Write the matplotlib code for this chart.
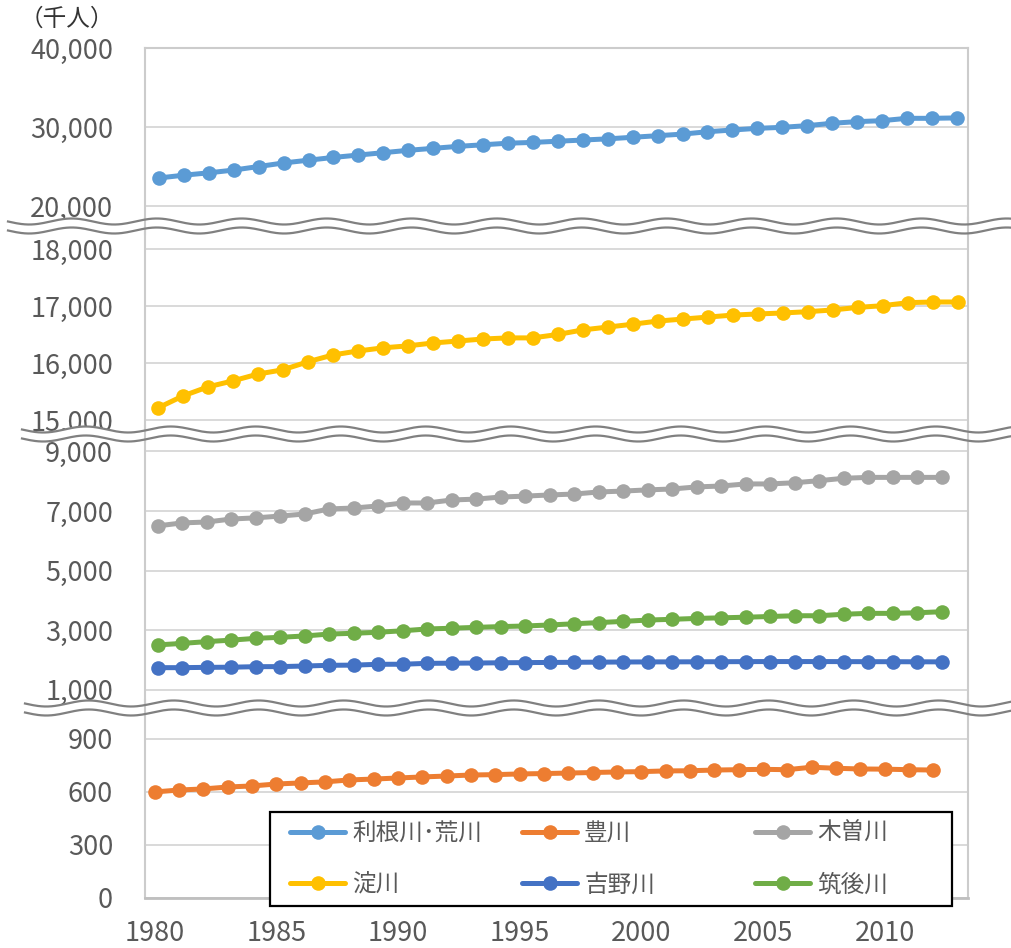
import numpy as np
import matplotlib
matplotlib.use('Agg')
import matplotlib.pyplot as plt
from matplotlib.patches import Polygon, Rectangle
from matplotlib.lines import Line2D
from matplotlib.ticker import FuncFormatter

plt.rcParams['font.family'] = ['Noto Sans CJK JP', 'DejaVu Sans']

# data (thousand people), 1980-2012
years = list(range(1980, 2013))
tone_arakawa = [23550, 23900, 24200, 24550, 25000, 25450, 25800, 26150, 26450, 26750,
                27050, 27300, 27550, 27750, 27950, 28050, 28200, 28350, 28500, 28700,
                28900, 29100, 29400, 29620, 29830, 29960, 30170, 30470, 30680, 30800,
                31100, 31100, 31150]
yodogawa = [15210, 15420, 15580, 15685, 15805, 15880, 16020, 16140, 16210, 16265,
            16300, 16350, 16385, 16420, 16440, 16440, 16500, 16580, 16630, 16680,
            16735, 16770, 16805, 16840, 16860, 16877, 16900, 16930, 16975, 17005,
            17058, 17070, 17070]
kisogawa = [6500, 6600, 6630, 6730, 6770, 6830, 6900, 7070, 7100, 7170,
            7270, 7270, 7370, 7400, 7470, 7500, 7540, 7570, 7640, 7670,
            7710, 7740, 7810, 7840, 7910, 7910, 7950, 8020, 8100, 8130,
            8130, 8130, 8130]
chikugogawa = [2500, 2550, 2610, 2660, 2720, 2755, 2800, 2865, 2890, 2925,
               2975, 3035, 3060, 3090, 3115, 3135, 3170, 3210, 3250, 3290,
               3335, 3360, 3390, 3410, 3430, 3455, 3480, 3480, 3530, 3560,
               3560, 3580, 3615]
yoshinogawa = [1735, 1735, 1745, 1750, 1768, 1770, 1790, 1814, 1820, 1848,
               1850, 1880, 1885, 1890, 1900, 1905, 1910, 1915, 1920, 1925,
               1928, 1930, 1932, 1935, 1938, 1940, 1940, 1940, 1938, 1936,
               1935, 1932, 1930]
toyogawa = [600, 611, 617, 628, 634, 645, 651, 657, 668, 673,
            679, 685, 690, 696, 698, 702, 704, 707, 710, 713,
            715, 719, 720, 724, 726, 728, 726, 740, 734, 730,
            729, 726, 724]

names = ['利根川･荒川', '豊川', '木曽川', '淀川', '吉野川', '筑後川']
colors = {'利根川･荒川': '#5B9BD5', '豊川': '#ED7D31', '木曽川': '#A5A5A5',
          '淀川': '#FFC000', '吉野川': '#4472C4', '筑後川': '#70AD47'}
xticks = [1980, 1985, 1990, 1995, 2000, 2005, 2010]

W, H = 1012, 948
fig = plt.figure(figsize=(W / 100, H / 100), dpi=100)

def px_rect(top, bottom, left=145, right=968):
    return [left / W, 1 - bottom / H, (right - left) / W, (bottom - top) / H]

# stacked segments of the broken axis: (top px, bottom px, xlim, ylim, yticks, series)
segments = [
    (48, 226, (1979.44, 2012.45), (17469, 40000), [20000, 30000, 40000],
     [('利根川･荒川', tone_arakawa)]),
    (226, 434, (1979.49, 2012.41), (14754, 18403), [15000, 16000, 17000, 18000],
     [('淀川', yodogawa)]),
    (434, 708, (1979.48, 2013.07), (379, 9588), [1000, 3000, 5000, 7000, 9000],
     [('木曽川', kisogawa), ('筑後川', chikugogawa), ('吉野川', yoshinogawa)]),
    (708, 898, (1979.60, 2013.43), (0, 1075), [0, 300, 600, 900],
     [('豊川', toyogawa)]),
]

handles = {}
axes = []
for i, (top, bottom, xl, yl, yt, series) in enumerate(segments):
    ax = fig.add_axes(px_rect(top, bottom))
    axes.append(ax)
    for name, vals in series:
        c = colors[name]
        ln, = ax.plot(years, vals, color=c, lw=3.6, marker='o', ms=10.5,
                      mec=c, mew=0, zorder=3, solid_capstyle='round')
        handles[name] = ln
    ax.set_xlim(*xl)
    ax.set_ylim(*yl)
    ax.set_yticks(yt)
    ax.yaxis.set_major_formatter(FuncFormatter(lambda v, p: f'{v:,.0f}'))
    ax.yaxis.grid(True, color='#D9D9D9', lw=1.4)
    ax.set_axisbelow(True)
    ax.tick_params(axis='y', length=0, pad=23, labelsize=19.5, labelcolor='#595959')
    for s in ['left', 'right', 'top', 'bottom']:
        ax.spines[s].set_color('#CCCCCC')
        ax.spines[s].set_linewidth(1.5)
    ax.spines['top'].set_visible(i == 0)
    ax.spines['bottom'].set_visible(i == len(segments) - 1)
    if i < len(segments) - 1:
        ax.set_xticks([])
    else:
        ax.set_xticks(xticks)
        ax.tick_params(axis='x', length=0, pad=16, labelsize=19.5, labelcolor='#595959')
        ax.spines['bottom'].set_color('#BFBFBF')
        ax.spines['bottom'].set_linewidth(2)

# wavy break marks
def wave_break(yc, x0, period=85.0, amp=3.0, gap=9.0):
    xs = np.linspace(x0, W, 600)
    ph = np.sin(2 * np.pi * (xs - x0) / period) * amp
    y_up = yc - gap / 2 + ph
    y_lo = yc + gap / 2 + ph
    fx = xs / W
    pts = np.column_stack([np.concatenate([fx, fx[::-1]]),
                           np.concatenate([1 - y_up / H, (1 - y_lo / H)[::-1]])])
    fig.add_artist(Polygon(pts, closed=True, facecolor='white', edgecolor='none',
                           transform=fig.transFigure, zorder=3))
    for yy in (y_up, y_lo):
        fig.add_artist(Line2D(fx, 1 - yy / H, color='#808080', lw=1.6,
                              transform=fig.transFigure, zorder=3.5))
    for xv in (145, 968):
        fig.add_artist(Line2D([xv / W, xv / W], [1 - (yc - 8) / H, 1 - (yc + 8) / H],
                              color='#CCCCCC', lw=1.5, transform=fig.transFigure,
                              zorder=3.2))

wave_break(226, 8)
wave_break(434, 22)
wave_break(708, 25)

fig.text(67 / W, 1 - 19 / H, '（千人）', ha='center', va='center',
         fontsize=17, color='#333333')

# legend: box plus three columns
fig.add_artist(Rectangle((270 / W, 1 - 906 / H), (952 - 270) / W, (906 - 812) / H,
                         facecolor='white', edgecolor='black', lw=1.6,
                         transform=fig.transFigure, zorder=4))
columns = [(290, ['利根川･荒川', '淀川']), (522, ['豊川', '吉野川']), (755, ['木曽川', '筑後川'])]
for x0, col in columns:
    fig.legend(handles=[handles[n] for n in col], labels=col, loc='upper left',
               bbox_to_anchor=(x0 / W, 1 - 822 / H), frameon=False, borderpad=0,
               borderaxespad=0, handlelength=2.33, handletextpad=0.3,
               labelspacing=1.2, fontsize=17, labelcolor='#595959')

fig.savefig('out.png', dpi=100)
